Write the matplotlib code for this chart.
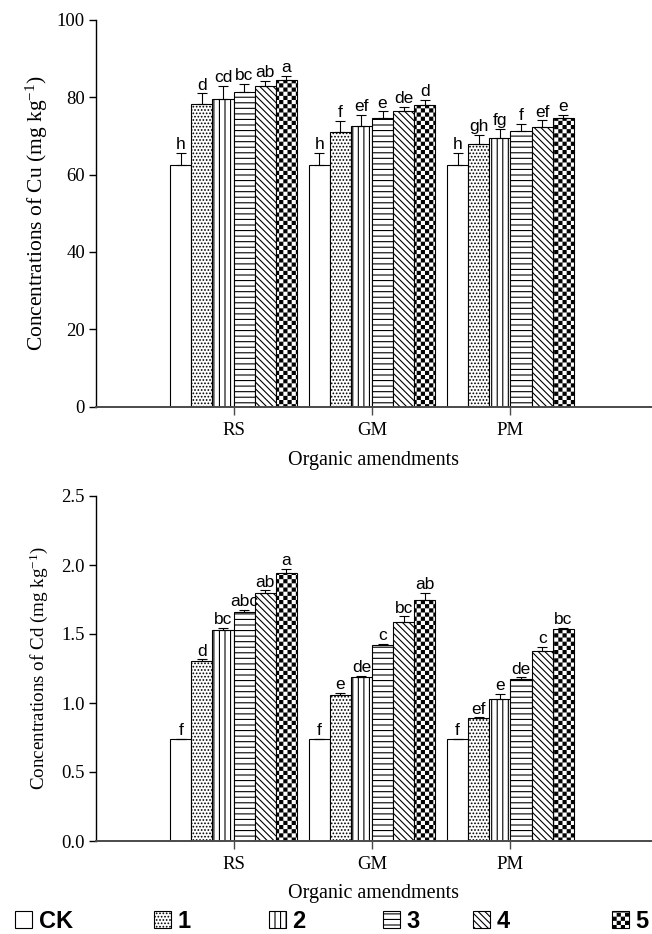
import matplotlib
matplotlib.use('Agg')
import matplotlib.pyplot as plt
import matplotlib.hatch as mhatch
from matplotlib import font_manager
from matplotlib.patches import Patch
from matplotlib.path import Path
import numpy as np

# data
groups = ['RS', 'GM', 'PM']
treatments = ['CK', '1', '2', '3', '4', '5']

# rows = treatments, columns = RS, GM, PM
cu_mean = [[62.6, 62.6, 62.6],
           [78.2, 71.0, 68.0],
           [79.6, 72.5, 69.5],
           [81.3, 74.6, 71.2],
           [82.8, 76.4, 72.4],
           [84.5, 78.1, 74.6]]
cu_err = [[3.1, 3.1, 3.1],
          [2.8, 2.9, 2.2],
          [3.4, 2.9, 2.3],
          [2.1, 1.8, 2.0],
          [1.5, 1.2, 1.6],
          [1.0, 1.2, 0.9]]
cu_letters = [['h', 'h', 'h'],
              ['d', 'f', 'gh'],
              ['cd', 'ef', 'fg'],
              ['bc', 'e', 'f'],
              ['ab', 'de', 'ef'],
              ['a', 'd', 'e']]

cd_mean = [[0.736, 0.736, 0.736],
           [1.306, 1.056, 0.889],
           [1.531, 1.189, 1.030],
           [1.657, 1.417, 1.175],
           [1.797, 1.587, 1.378],
           [1.943, 1.747, 1.536]]
cd_err = [[0.005, 0.005, 0.005],
          [0.010, 0.017, 0.007],
          [0.015, 0.008, 0.035],
          [0.020, 0.012, 0.010],
          [0.020, 0.040, 0.030],
          [0.030, 0.050, 0.007]]
cd_letters = [['f', 'f', 'f'],
              ['d', 'e', 'ef'],
              ['bc', 'de', 'e'],
              ['abc', 'c', 'de'],
              ['ab', 'bc', 'c'],
              ['a', 'ab', 'bc']]

# 'O' is turned into a checkerboard below
hatches = ['', '.....', '|||', '---', '\\' * 5, 'OOOO']

HATCH_LW = 0.8
plt.rcParams['hatch.linewidth'] = HATCH_LW
plt.rcParams['font.family'] = ['Liberation Serif', 'DejaVu Serif']
plt.rcParams['mathtext.fontset'] = 'custom'
plt.rcParams['mathtext.rm'] = 'Liberation Serif'
plt.rcParams['mathtext.default'] = 'regular'


# checkerboard hatch (matplotlib has none), replaces the large circles 'O'
class CheckerHatch(mhatch.HatchPatternBase):
    def __init__(self, hatch, density):
        self.n = hatch.count('O') * density
        self.n += self.n % 2
        self.num_vertices = (self.n * self.n // 2) * 5

    def set_vertices_and_codes(self, vertices, codes):
        step = 1.0 / self.n
        # shrink so the stroke around each square does not eat the white ones
        half = step / 2 - (HATCH_LW / 72.0) / 2
        k = 0
        for i in range(self.n):
            for j in range(self.n):
                if (i + j) % 2:
                    continue
                cx, cy = (i + 0.5) * step, (j + 0.5) * step
                vertices[k:k + 5] = [[cx - half, cy - half], [cx + half, cy - half],
                                     [cx + half, cy + half], [cx - half, cy + half],
                                     [cx - half, cy - half]]
                codes[k:k + 5] = [Path.MOVETO, Path.LINETO, Path.LINETO,
                                  Path.LINETO, Path.CLOSEPOLY]
                k += 5


mhatch._hatch_types[mhatch._hatch_types.index(mhatch.LargeCircles)] = CheckerHatch

font_names = {f.name for f in font_manager.fontManager.ttflist}
legend_family = 'Liberation Sans Narrow' if 'Liberation Sans Narrow' in font_names else 'Liberation Sans'

W, H = 652, 934
fig = plt.figure(figsize=(W / 100, H / 100), dpi=100)

bar_w = 0.1525
xc = np.arange(len(groups))


def draw_panel(ax, means, errs, letters, ylim, yticks, fmt, ylabel, ylabel_size, xlabel_y):
    for i in range(len(treatments)):
        x = xc + (i - 2.5) * bar_w
        m = np.array(means[i])
        e = np.array(errs[i])
        ax.bar(x, m, width=bar_w, facecolor='white', edgecolor='black',
               linewidth=0.8, hatch=hatches[i], zorder=2)
        ax.errorbar(x, m, yerr=[np.zeros_like(e), e], fmt='none', ecolor='black',
                    elinewidth=0.8, capsize=3.5, capthick=0.8, zorder=3)
        for xi, top, lab in zip(x, m + e, letters[i]):
            ax.annotate(lab, (xi, top), xytext=(0, 0.5), textcoords='offset points',
                        ha='center', va='bottom', fontsize=12.5,
                        family=['Liberation Sans', 'DejaVu Sans'])
    ax.set_xlim(-0.993, 3.022)
    ax.set_ylim(*ylim)
    ax.set_yticks(yticks)
    ax.set_yticklabels([fmt.format(v) for v in yticks])
    ax.set_xticks(xc)
    ax.set_xticklabels(groups)
    for s in ['top', 'right']:
        ax.spines[s].set_visible(False)
    ax.spines['left'].set_linewidth(1.0)
    ax.spines['bottom'].set_linewidth(1.4)
    ax.spines['bottom'].set_color('#4a4a4a')
    ax.tick_params(axis='y', direction='out', length=5, width=1, labelsize=13.5, pad=3)
    ax.tick_params(axis='x', direction='out', length=6, width=1, labelsize=13.5, pad=5,
                   color='#4a4a4a')
    ax.set_xlabel('Organic amendments', fontsize=14.5)
    ax.xaxis.set_label_coords(0.5, xlabel_y)
    ax.set_ylabel(ylabel, fontsize=ylabel_size)
    ax.yaxis.set_label_coords(-0.083, 0.5)


ax1 = fig.add_axes([96 / W, 1 - 406.5 / H, 1 - 96 / W, 386.5 / H])
draw_panel(ax1, cu_mean, cu_err, cu_letters, (0, 100), [0, 20, 40, 60, 80, 100],
           '{:.0f}', 'Concentrations of Cu (mg kg$^{-1}$)', 15.5, -0.114)

ax2 = fig.add_axes([96 / W, 1 - 841 / H, 1 - 96 / W, 345 / H])
draw_panel(ax2, cd_mean, cd_err, cd_letters, (0, 2.5), [0.0, 0.5, 1.0, 1.5, 2.0, 2.5],
           '{:.1f}', 'Concentrations of Cd (mg kg$^{-1}$)', 13.7, -0.125)

# legend along the bottom, one entry per treatment
legend_x = [15, 154, 269, 383, 473, 612]
for t, h, lx in zip(treatments, hatches, legend_x):
    handle = Patch(facecolor='white', edgecolor='black', linewidth=0.8, hatch=h)
    fig.legend(handles=[handle], labels=[t], loc='center left',
               bbox_to_anchor=(lx / W, 1 - 921 / H), frameon=False,
               borderpad=0, borderaxespad=0, handlelength=0.7, handleheight=0.7,
               handletextpad=0.3,
               prop={'family': legend_family, 'weight': 'bold', 'size': 17})

fig.savefig('out.png', dpi=100)
